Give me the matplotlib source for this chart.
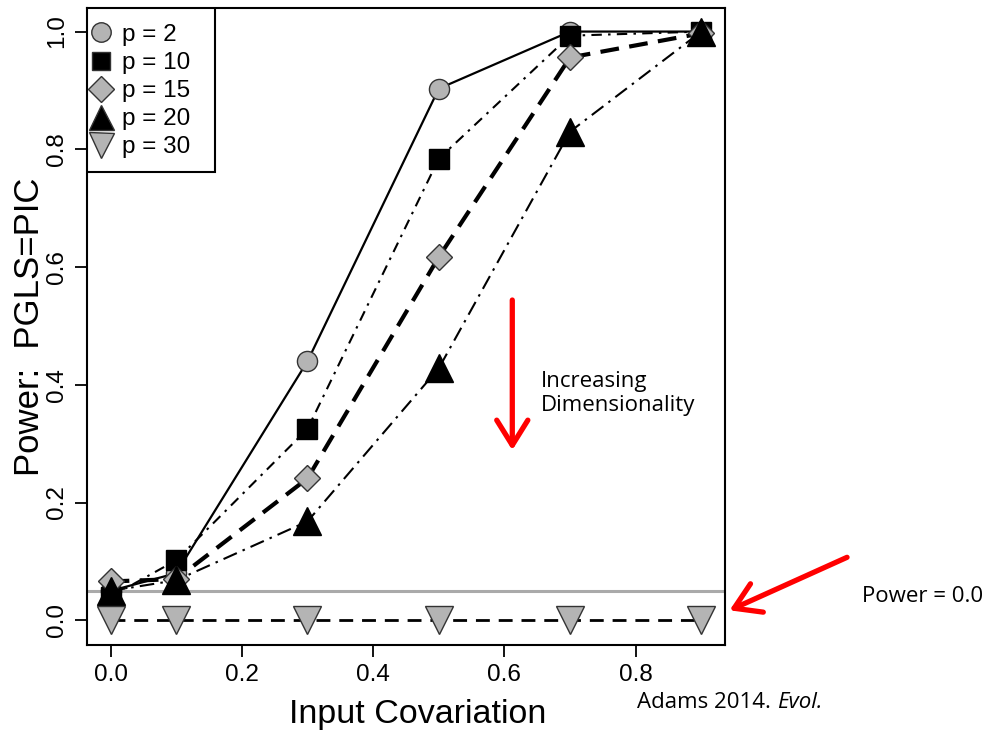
import matplotlib.pyplot as plt
from matplotlib.lines import Line2D
from matplotlib.patches import Rectangle

# input covariation levels
cov = [0.0, 0.1, 0.3, 0.5, 0.7, 0.9]

# power of PGLS = PIC test, one series per dimensionality
p2 = [0.05, 0.08, 0.44, 0.903, 1.0, 1.0]
p10 = [0.04, 0.102, 0.325, 0.784, 0.993, 1.0]
p15 = [0.066, 0.07, 0.241, 0.617, 0.956, 0.997]
p20 = [0.05, 0.068, 0.168, 0.428, 0.83, 1.0]
p30 = [0.0, 0.0, 0.0, 0.0, 0.0, 0.0]

labels = ["p = 2", "p = 10", "p = 15", "p = 20", "p = 30"]
alpha_level = 0.05

plt.rcParams['font.family'] = ['Liberation Sans', 'DejaVu Sans']

fig = plt.figure(figsize=(9.87, 7.35), dpi=100)
ax = fig.add_axes([0.0881, 0.1224, 0.6464, 0.8667])

gray = '#b4b4b4'
# values, marker, face, linestyle, linewidth, marker size, legend marker size
series = [
    (p2, 'o', gray, '-', 1.6, 14.5, 14),
    (p10, 's', 'black', (0, (5, 3, 1.2, 3)), 1.5, 14.5, 12.5),
    (p15, 'D', gray, (0, (4.5, 2.5)), 3.0, 13.5, 13),
    (p20, '^', 'black', (0, (7, 3, 1.2, 3)), 1.5, 20, 18),
    (p30, 'v', gray, (0, (5, 3.2)), 2.0, 20, 18),
]

ax.axhline(alpha_level, color='#aaaaaa', lw=2.2, zorder=1)

handles = []
for (vals, mk, fc, ls, lw, ms, lms), lab in zip(series, labels):
    ax.plot(cov, vals, color='black', linestyle=ls, lw=lw, zorder=2)
    ax.plot(cov, vals, linestyle='none', marker=mk, markersize=ms,
            markerfacecolor=fc, markeredgecolor='black' if fc == 'black' else '#333333',
            markeredgewidth=1.0, zorder=3)
    handles.append(Line2D([], [], linestyle='none', marker=mk, markersize=lms,
                          markerfacecolor=fc, markeredgecolor='#333333',
                          markeredgewidth=1.0, label=lab))

ax.set_xlim(-0.036, 0.936)
ax.set_ylim(-0.042, 1.04)
ax.set_xticks([0.0, 0.2, 0.4, 0.6, 0.8])
ax.set_yticks([0.0, 0.2, 0.4, 0.6, 0.8, 1.0])
ax.set_xticklabels(['0.0', '0.2', '0.4', '0.6', '0.8'])
ax.set_yticklabels(['0.0', '0.2', '0.4', '0.6', '0.8', '1.0'], rotation=90, va='center')
ax.tick_params(labelsize=17.5, length=8.5, width=1.3, pad=5)
for s in ax.spines.values():
    s.set_linewidth(1.5)

ax.set_xlabel('Input Covariation', fontsize=24.5)
ax.xaxis.set_label_coords(0.519, -0.085)
ax.set_ylabel('Power:  PGLS=PIC', fontsize=25, labelpad=0)

# legend box like R's legend()
ax.add_patch(Rectangle((0, 0.7425), 0.2006, 0.2575, transform=ax.transAxes,
                       facecolor='white', edgecolor='black', lw=1.5, zorder=4))
leg = ax.legend(handles=handles, loc='upper left', bbox_to_anchor=(0.0047, 0.975),
                fontsize=17.5, frameon=False, borderaxespad=0, borderpad=0,
                handlelength=0.9, handletextpad=0.4, labelspacing=0.25)
leg.set_zorder(5)

# annotations
note_font = ['Open Sans', 'DejaVu Sans']
arrow = dict(arrowstyle='->,head_length=0.45,head_width=0.28', color='red', lw=3.8,
             mutation_scale=40, shrinkA=0, shrinkB=0)
ax.annotate('', xy=(0.612, 0.289), xytext=(0.612, 0.544), arrowprops=arrow)
ax.text(0.656, 0.385, 'Increasing\nDimensionality', fontsize=16,
        family=note_font, va='center', ha='left', linespacing=1.2)

ax.annotate('', xy=(0.943, 0.017), xytext=(1.122, 0.107), arrowprops=arrow,
            annotation_clip=False)
fig.text(862 / 987, 1 - 597 / 735, 'Power = 0.0', fontsize=16, family=note_font,
         va='center', ha='left')

t1 = fig.text(637 / 987, 1 - 702 / 735, 'Adams 2014. ', fontsize=16, family=note_font,
              va='center', ha='left')
fig.canvas.draw()
bb = t1.get_window_extent()
fig.text(bb.x1 / fig.bbox.width, 1 - 702 / 735, 'Evol.', fontsize=16, family=note_font,
         style='italic', va='center', ha='left')

fig.savefig('out.png', dpi=100)
